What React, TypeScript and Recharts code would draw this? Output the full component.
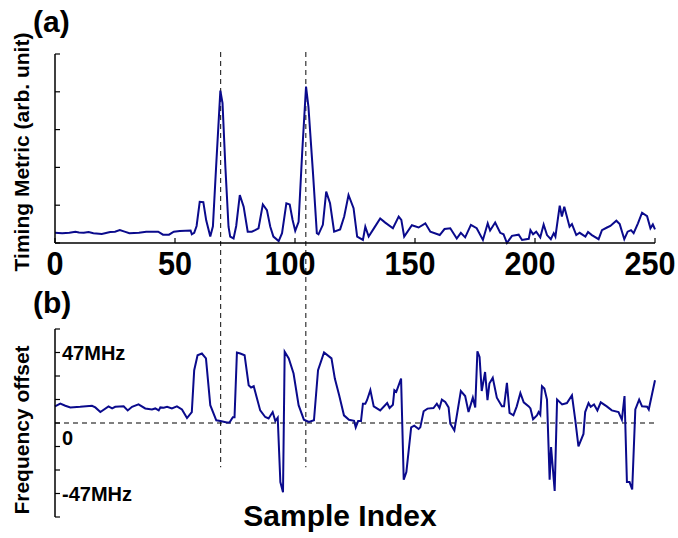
import { Line, LineChart, ReferenceLine, XAxis, YAxis } from 'recharts'

const FONT = '"Liberation Sans", Arial, sans-serif'
const LINE_COLOR = '#0a0a8c'

// (a) timing metric (sample index, arb. unit)
const timingIdx = [
  0, 3, 6, 8.5, 10, 12, 14, 16, 19.5, 23, 25, 27, 29, 31, 35, 38, 43, 45, 47.5, 49.5, 52, 56.5, 57, 58, 59,
  60.3, 61.8, 63, 64.7, 65.8, 67.2, 68.9, 69.8, 71, 72.3, 73, 74.4, 75.5, 77, 78.6, 80.3, 82, 83.4, 84.8,
  86.6, 88.3, 89.7, 91, 93.2, 94.6, 96.4, 97.8, 99, 100.1, 101.5, 103, 104.6, 105.6, 107.5, 109.1, 109.8,
  111.6, 113, 114.6, 116.3, 118.8, 120.5, 122.3, 124.4, 125.9, 128.3, 129.3, 130.7, 133, 135.5, 137.6,
  140.8, 143.2, 144.3, 145.5, 148.7, 151.5, 154.3, 156.4, 160.3, 162.3, 164.7, 167.4, 169.1, 170.9, 173.3,
  175.7, 178.3, 180.3, 181.3, 183.4, 185.5, 186.9, 188.3, 190.4, 193.2, 194.6, 197.4, 198.1, 199.2, 200.5,
  202.2, 203.6, 205, 206.6, 207.8, 208.5, 210.3, 211.2, 212.2, 214.4, 215.4, 217.2, 218.6, 221, 222.1,
  223.7, 226.5, 227.9, 230, 231.4, 233.9, 235.3, 237.2, 238.6, 240, 241.1, 242.9, 244.6, 246.7, 248.1,
  249.1, 250,
]
const timingVal = [
  0.27, 0.26, 0.27, 0.3, 0.28, 0.27, 0.29, 0.26, 0.24, 0.29, 0.3, 0.34, 0.3, 0.26, 0.27, 0.3, 0.3, 0.22, 0.22,
  0.3, 0.32, 0.33, 0.23, 0.27, 0.45, 1.09, 1.08, 0.6, 0.17, 0.44, 2.1, 4.03, 3.7, 2.0, 0.43, 0.17, 0.12, 0.45,
  1.27, 0.96, 0.3, 0.3, 0.34, 0.39, 1.02, 0.87, 0.43, 0.17, 0.05, 0.26, 1.05, 1.02, 0.61, 0.32, 0.56, 2.4,
  4.14, 3.6, 1.85, 0.26, 0.23, 0.48, 1.36, 1.05, 0.3, 0.36, 0.7, 1.27, 0.92, 0.17, 0.08, 0.43, 0.17, 0.4,
  0.65, 0.54, 0.39, 0.7, 0.61, 0.17, 0.47, 0.41, 0.52, 0.3, 0.21, 0.37, 0.39, 0.12, 0.27, 0.15, 0.48, 0.39,
  0.08, 0.52, 0.33, 0.54, 0.27, 0.23, 0.0, 0.19, 0.22, 0.08, 0.11, 0.34, 0.23, 0.3, 0.15, 0.49, 0.21, 0.1,
  0.26, 0.17, 0.99, 0.7, 0.96, 0.43, 0.5, 0.21, 0.27, 0.17, 0.29, 0.21, 0.1, 0.34, 0.41, 0.45, 0.59, 0.5,
  0.1, 0.3, 0.34, 0.26, 0.52, 0.8, 0.71, 0.39, 0.49, 0.36,
]

// (b) frequency offset in MHz
const freqIdx = [
  0, 2.2, 4.3, 6.4, 10.5, 15.4, 16.8, 18.9, 22.3, 23.8, 25.1, 28.6, 30.3, 32.1, 34.8, 37.6, 40.4, 41.8,
  43.2, 43.9, 45.3, 46.7, 48.7, 50.8, 52.9, 55, 57, 58, 59.4, 61.2, 62.9, 64.7, 67.2, 68.9, 71.6, 72.7,
  74.1, 74.8, 75.8, 77.2, 79, 80.7, 81.7, 82.8, 85.5, 87.6, 89, 90.7, 91.8, 92.8, 93.9, 95, 95.7, 97.4,
  99.4, 101.5, 103.7, 105.8, 107.9, 109.6, 112.1, 115.2, 116.6, 118.4, 120.4, 122.5, 124.6, 125.3, 126.3,
  127.5, 128.3, 129.3, 130, 131.4, 132.8, 135.5, 138.4, 139.4, 140.8, 141.4, 142.2, 144.2, 145.3, 146.4,
  148.4, 149.7, 151.5, 152.2, 153.6, 155.2, 157.7, 159.1, 160.2, 161.2, 162.6, 164, 164.7, 166.4, 169.1,
  170.9, 172.3, 174.1, 175.1, 176, 176.9, 177.8, 179.2, 180.2, 181, 182.4, 184.1, 186.2, 187.1, 188.3,
  189.4, 191, 192.4, 193.9, 195.3, 197.4, 198.1, 199.2, 200.8, 201.5, 202.2, 202.9, 203.9, 205, 206.1,
  206.7, 208.2, 209.2, 211.3, 213.3, 215.4, 216.8, 218.1, 220.2, 220.9, 222.3, 223.2, 224.6, 226, 227.4,
  229.9, 232, 234.8, 236.2, 237.3, 238.3, 239.4, 240.5, 241.8, 243.4, 244.6, 246.7, 247.4, 250,
]
const freqVal = [
  11.1, 12.9, 11.5, 10.4, 10.8, 11.5, 10.4, 7.3, 11.1, 9.7, 10.8, 11.1, 8.4, 10.8, 12.4, 9.7, 9.0, 9.7, 8.4,
  10.4, 10.2, 10.8, 9.7, 11.1, 9.0, 3.3, 7.3, 35.2, 45.2, 46.3, 43.1, 11.9, 1.8, 1.3, 0.3, 0.3, 3.8, 3.8,
  47.0, 46.3, 45.2, 25.2, 23.7, 24.5, 8.4, 4.0, 3.0, 7.3, 1.3, 3.5, -39.4, -46.1, 47.5, 43.1, 33.0, 11.9,
  2.2, 0.7, 1.8, 35.2, 47.0, 43.1, 29.6, 18.5, 5.1, 2.2, 1.5, -2.9, 1.3, 1.3, 12.9, 12.9, 15.2, 21.9, 11.1,
  8.4, 13.3, 10.0, 12.2, 21.9, 20.8, 29.6, -37.8, -32.7, -2.9, -1.8, -4.0, -2.9, 7.8, 9.6, 10.0, 12.9, 10.0,
  15.6, 14.0, 10.4, -0.5, -4.9, 21.3, 18.0, 7.3, 16.9, 10.4, 47.8, 44.0, 21.3, 34.0, 15.2, 26.3, 30.1, 16.9,
  11.1, 11.1, 26.7, 6.7, 5.1, 11.1, 20.0, 13.8, 11.1, 9.7, 2.5, 5.1, 7.3, 5.5, 24.5, 23.0, 15.6, -37.8,
  -16.0, -45.3, 15.6, 12.4, 13.3, 18.5, 1.8, -15.6, -7.3, 7.3, 13.3, 10.8, 12.4, 8.4, 13.8, 11.1, 8.4, 7.3,
  2.2, 18.0, -39.4, -39.4, -44.3, 9.0, 15.6, 11.1, 10.8, 9.0, 28.5,
]

const xTicks = [0, 50, 100, 150, 200, 250]
const timingTicks = [0, 1, 2, 3, 4, 5]
const freqStep = 47 / 3
const freqTicks = [-4, -3, -2, -1, 0, 1, 2, 3, 4].map((k) => k * freqStep)
const freqLabels: Record<string, string> = { '47': '47MHz', '0': '0', '-47': '-47MHz' }
const markerIdx = [69, 104.5]

const timingData = timingIdx.map((idx, i) => ({ idx, value: timingVal[i] }))
const freqData = freqIdx.map((idx, i) => ({ idx, value: freqVal[i] }))

function BottomTick(props: any) {
  const { x, y, payload } = props
  const label = String(payload.value)
  // three-digit labels sit a little left of their tick in the original
  const cx = label.length > 2 ? x - 5 : x
  return (
    <g>
      <line x1={x} y1={y} x2={x} y2={y - 5} stroke="#000" strokeWidth={1.2} />
      <text
        transform={`translate(${cx},${y + 32}) scale(0.9,1)`}
        textAnchor="middle"
        fontSize={34}
        fontWeight="bold"
        fontFamily={FONT}
        fill="#000"
      >
        {label}
      </text>
    </g>
  )
}

function LeftTick(props: any) {
  const { x, y } = props
  return <line x1={x} y1={y} x2={x + 5} y2={y} stroke="#000" strokeWidth={1.2} />
}

function FreqTick(props: any) {
  const { x, y, payload } = props
  const key = String(Math.round(payload.value))
  const label = Math.abs(payload.value - Math.round(payload.value)) < 0.01 ? freqLabels[key] : undefined
  return (
    <g>
      <line x1={x} y1={y} x2={x + 5} y2={y} stroke="#000" strokeWidth={1.2} />
      {label && (
        <text
          x={x + 7}
          y={key === '0' ? y + 22 : y + 7}
          fontSize={20}
          fontWeight="bold"
          fontFamily={FONT}
          fill="#000"
        >
          {label}
        </text>
      )}
    </g>
  )
}

const layer: React.CSSProperties = { position: 'absolute', left: 0, top: 0 }

export default function App() {
  return (
    <div style={{ position: 'absolute', left: 0, top: 0, width: 678, height: 538, background: '#fff' }}>
      <div style={layer}>
        <LineChart width={678} height={538} data={timingData} margin={{ top: 54, right: 23, left: 45, bottom: 265 }}>
          <XAxis
            dataKey="idx"
            type="number"
            domain={[0, 250]}
            ticks={xTicks}
            interval={0}
            height={30}
            tickSize={0}
            tickMargin={0}
            tick={<BottomTick />}
            axisLine={{ stroke: '#000', strokeWidth: 1.5 }}
          />
          <YAxis
            type="number"
            domain={[0, 5]}
            ticks={timingTicks}
            width={10}
            tickSize={0}
            tickMargin={0}
            tick={<LeftTick />}
            axisLine={{ stroke: '#000', strokeWidth: 1.5 }}
          />
          {markerIdx.map((m) => (
            <ReferenceLine
              key={m}
              segment={[
                { x: m, y: 5.05 },
                { x: m, y: -5.93 },
              ]}
              ifOverflow="visible"
              stroke="#333"
              strokeWidth={1.2}
              strokeDasharray="5 4"
            />
          ))}
          <Line
            dataKey="value"
            type="linear"
            stroke={LINE_COLOR}
            strokeWidth={2}
            dot={false}
            isAnimationActive={false}
          />
        </LineChart>
      </div>
      <div style={layer}>
        <LineChart width={678} height={538} data={freqData} margin={{ top: 329, right: 23, left: 45, bottom: 21 }}>
          <XAxis dataKey="idx" type="number" domain={[0, 250]} hide />
          <YAxis
            type="number"
            domain={[-4 * freqStep, 4 * freqStep]}
            ticks={freqTicks}
            interval={0}
            width={10}
            tickSize={0}
            tickMargin={0}
            tick={<FreqTick />}
            axisLine={{ stroke: '#000', strokeWidth: 1.5 }}
          />
          <ReferenceLine y={0} stroke="#000" strokeWidth={1.2} strokeDasharray="5 4" />
          <Line
            dataKey="value"
            type="linear"
            stroke={LINE_COLOR}
            strokeWidth={2}
            dot={false}
            isAnimationActive={false}
          />
        </LineChart>
      </div>
      <svg style={{ ...layer, pointerEvents: 'none' }} width={678} height={538}>
        <g fontFamily={FONT} fontWeight="bold" fill="#000">
          <text x={33} y={32} fontSize={30}>(a)</text>
          <text x={33} y={313} fontSize={30}>(b)</text>
          <text x={340} y={526} fontSize={30} textAnchor="middle">Sample Index</text>
          <text transform="translate(29,152) rotate(-90)" fontSize={21} textAnchor="middle">
            Timing Metric (arb. unit)
          </text>
          <text transform="translate(29,430) rotate(-90)" fontSize={21} textAnchor="middle">
            Frequency offset
          </text>
        </g>
      </svg>
    </div>
  )
}
